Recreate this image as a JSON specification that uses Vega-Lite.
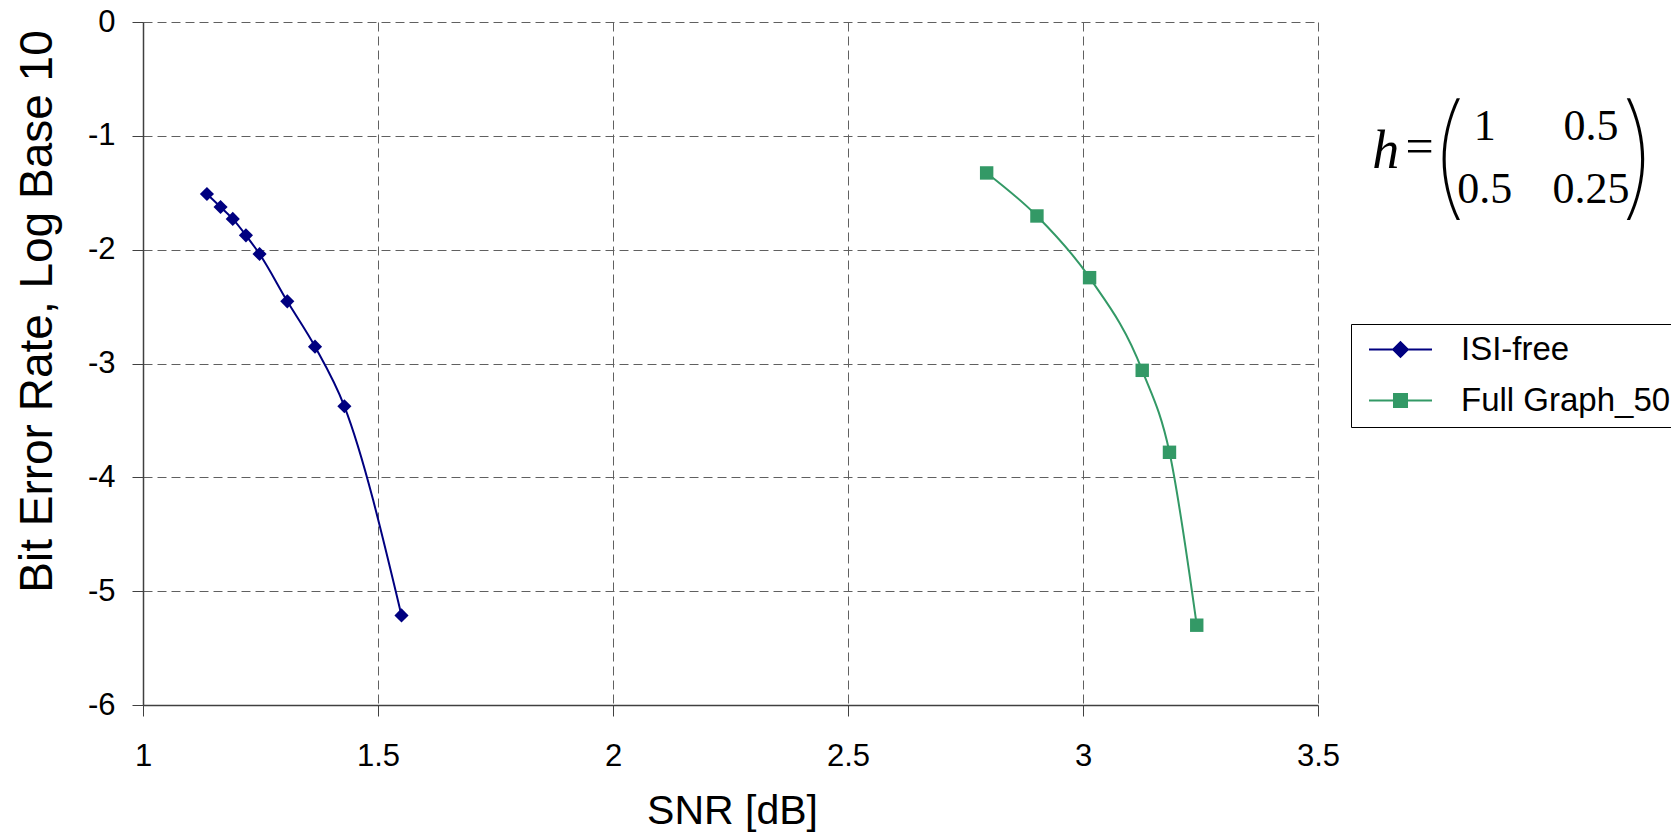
{
  "$schema": "https://vega.github.io/schema/vega-lite/v6.json",
  "width": 1175,
  "height": 683,
  "autosize": {"type": "none"},
  "padding": {"left": 143, "top": 22, "right": 353, "bottom": 128},
  "background": "white",
  "config": {"view": {"stroke": null}, "font": "Liberation Sans"},
  "datasets": {
    "curves": [
      {"series": "ISI-free", "snr": 1.136, "ber": -1.511},
      {"series": "ISI-free", "snr": 1.165, "ber": -1.625},
      {"series": "ISI-free", "snr": 1.191, "ber": -1.730},
      {"series": "ISI-free", "snr": 1.219, "ber": -1.874},
      {"series": "ISI-free", "snr": 1.248, "ber": -2.038},
      {"series": "ISI-free", "snr": 1.307, "ber": -2.454},
      {"series": "ISI-free", "snr": 1.366, "ber": -2.852},
      {"series": "ISI-free", "snr": 1.4285, "ber": -3.376},
      {"series": "ISI-free", "snr": 1.550, "ber": -5.213},
      {"series": "Full Graph_50", "snr": 2.795, "ber": -1.326},
      {"series": "Full Graph_50", "snr": 2.902, "ber": -1.704},
      {"series": "Full Graph_50", "snr": 3.014, "ber": -2.246},
      {"series": "Full Graph_50", "snr": 3.126, "ber": -3.060},
      {"series": "Full Graph_50", "snr": 3.184, "ber": -3.780},
      {"series": "Full Graph_50", "snr": 3.242, "ber": -5.299}
    ],
    "formula": [
      {"part": "lhs", "x": 3.644, "y": -1.283, "t": "h"},
      {"part": "eq", "x": 3.716, "y": -1.2387, "t": "="},
      {"part": "paren", "x": 3.777, "y": -1.2255, "t": "("},
      {"part": "paren", "x": 4.182, "y": -1.2255, "t": ")"},
      {"part": "cell", "x": 3.855, "y": -1.0366, "t": "1"},
      {"part": "cell", "x": 4.081, "y": -1.0366, "t": "0.5"},
      {"part": "cell", "x": 3.855, "y": -1.590, "t": "0.5"},
      {"part": "cell", "x": 4.081, "y": -1.590, "t": "0.25"}
    ]
  },
  "layer": [
    {
      "data": {"name": "curves"},
      "mark": {"type": "line", "strokeWidth": 2, "interpolate": "monotone"},
      "encoding": {
        "x": {
          "field": "snr", "type": "quantitative",
          "scale": {"domain": [1, 3.5], "nice": false, "zero": false},
          "axis": {
            "title": "SNR [dB]",
            "values": [1, 1.5, 2, 2.5, 3, 3.5],
            "labelExpr": "'' + datum.value",
            "labelFont": "Liberation Sans", "labelFontSize": 31, "labelColor": "black",
            "labelPadding": 25, "tickSize": 11, "tickColor": "#404040", "tickWidth": 1,
            "domainColor": "#404040", "domainWidth": 1.5,
            "grid": true, "gridColor": "#606060", "gridDash": [9, 5], "gridWidth": 1,
            "titleFont": "Liberation Sans", "titleFontSize": 41, "titleFontWeight": "normal",
            "titleColor": "black", "titleBaseline": "alphabetic", "titleY": 118, "titleX": 589,
            "labelFlush": false, "labelOverlap": false
          }
        },
        "y": {
          "field": "ber", "type": "quantitative",
          "scale": {"domain": [-6, 0], "nice": false, "zero": false},
          "axis": {
            "title": "Bit Error Rate, Log Base 10",
            "values": [-6, -5, -4, -3, -2, -1, 0],
            "labelExpr": "datum.value == 0 ? '0' : '-' + abs(datum.value)",
            "labelFont": "Liberation Sans", "labelFontSize": 31, "labelColor": "black",
            "labelPadding": 17, "tickSize": 11, "tickColor": "#404040", "tickWidth": 1,
            "domainColor": "#404040", "domainWidth": 1.5,
            "grid": true, "gridColor": "#606060", "gridDash": [9, 5], "gridWidth": 1,
            "titleFont": "Liberation Sans", "titleFontSize": 46, "titleFontWeight": "normal",
            "titleColor": "black", "titleBaseline": "alphabetic", "titleAngle": -90,
            "titleX": -92, "titleY": 289, "titleAlign": "center",
            "labelFlush": false, "labelOverlap": false
          }
        },
        "color": {
          "field": "series", "type": "nominal",
          "scale": {"domain": ["ISI-free", "Full Graph_50"], "range": ["#000080", "#339966"]},
          "legend": {
            "title": null,
            "orient": "none", "legendX": 1208, "legendY": 302,
            "direction": "vertical",
            "strokeColor": "black", "fillColor": "white", "padding": 9,
            "cornerRadius": 0,
            "labelFont": "Liberation Sans", "labelFontSize": 33, "labelColor": "black",
            "labelOffset": 44, "rowPadding": 17, "symbolSize": 441, "symbolOffset": 24,
            "symbolStrokeWidth": 2, "labelLimit": 400,
            "encode": {
              "symbols": {
                "update": {
                  "shape": {"signal": "datum.value === 'ISI-free' ? 'M-3,0L3,0M0,-0.7L0.7,0L0,0.7L-0.7,0Z' : 'M-3,0L3,0M-0.62,-0.62L0.62,-0.62L0.62,0.62L-0.62,0.62Z'"},
                  "fill": {"scale": "color", "field": "value"},
                  "stroke": {"scale": "color", "field": "value"},
                  "strokeWidth": {"value": 2},
                  "opacity": {"value": 1}
                }
              }
            }
          }
        },
        "order": {"field": "snr", "type": "quantitative"}
      }
    },
    {
      "data": {"name": "curves"},
      "transform": [{"filter": "datum.series == 'ISI-free'"}],
      "mark": {"type": "point", "shape": "diamond", "filled": true, "opacity": 1, "size": 200},
      "encoding": {
        "x": {"field": "snr", "type": "quantitative"},
        "y": {"field": "ber", "type": "quantitative"},
        "color": {"field": "series", "type": "nominal", "legend": null}
      }
    },
    {
      "data": {"name": "curves"},
      "transform": [{"filter": "datum.series == 'Full Graph_50'"}],
      "mark": {"type": "point", "shape": "square", "filled": true, "opacity": 1, "size": 180},
      "encoding": {
        "x": {"field": "snr", "type": "quantitative"},
        "y": {"field": "ber", "type": "quantitative"},
        "color": {"field": "series", "type": "nominal", "legend": null}
      }
    },
    {
      "data": {"name": "formula"},
      "transform": [{"filter": "datum.part == 'lhs'"}],
      "mark": {"type": "text", "font": "Liberation Serif", "fontStyle": "italic", "fontSize": 54, "align": "center", "baseline": "alphabetic", "color": "black"},
      "encoding": {
        "x": {"field": "x", "type": "quantitative"},
        "y": {"field": "y", "type": "quantitative"},
        "text": {"field": "t"}
      }
    },
    {
      "data": {"name": "formula"},
      "transform": [{"filter": "datum.part == 'eq'"}],
      "mark": {"type": "text", "font": "Liberation Serif", "fontSize": 50, "align": "center", "baseline": "alphabetic", "color": "black"},
      "encoding": {
        "x": {"field": "x", "type": "quantitative"},
        "y": {"field": "y", "type": "quantitative"},
        "text": {"field": "t"}
      }
    },
    {
      "data": {"name": "formula"},
      "transform": [{"filter": "datum.part == 'cell'"}],
      "mark": {"type": "text", "font": "Liberation Serif", "fontSize": 44, "align": "center", "baseline": "alphabetic", "color": "black"},
      "encoding": {
        "x": {"field": "x", "type": "quantitative"},
        "y": {"field": "y", "type": "quantitative"},
        "text": {"field": "t"}
      }
    },
    {
      "data": {"name": "formula"},
      "transform": [{"filter": "datum.part == 'paren'"}],
      "mark": {"type": "text", "font": "Inter", "fontWeight": 100, "fontSize": 134, "align": "center", "baseline": "middle", "color": "black"},
      "encoding": {
        "x": {"field": "x", "type": "quantitative"},
        "y": {"field": "y", "type": "quantitative"},
        "text": {"field": "t"}
      }
    }
  ]
}
